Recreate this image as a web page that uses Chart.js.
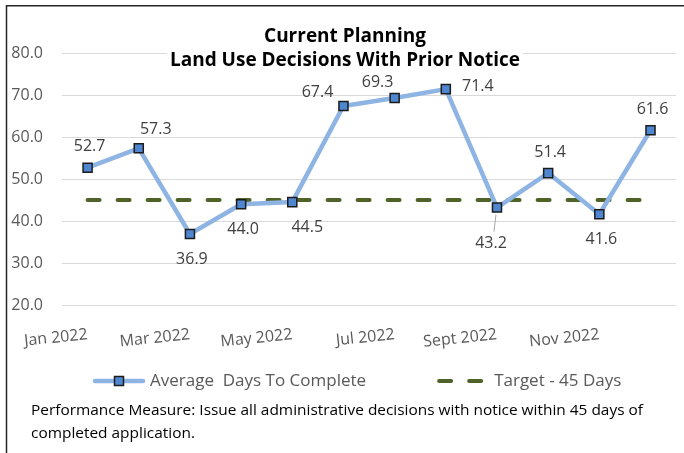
<!DOCTYPE html>
<html>
<head>
<meta charset="utf-8">
<style>
  html, body { margin: 0; padding: 0; background: #fff; }
  canvas { display: block; }
</style>
<script src="https://cdn.jsdelivr.net/npm/chart.js@4.4.1/dist/chart.umd.min.js"></script>
</head>
<body>
<canvas id="planning" width="684" height="453"></canvas>
<script>
const months = ['Jan 2022', 'Feb 2022', 'Mar 2022', 'Apr 2022', 'May 2022', 'Jun 2022',
  'Jul 2022', 'Aug 2022', 'Sept 2022', 'Oct 2022', 'Nov 2022', 'Dec 2022'];
const avgDays = [52.7, 57.3, 36.9, 44.0, 44.5, 67.4, 69.3, 71.4, 43.2, 51.4, 41.6, 61.6];
const targetDays = [45, 45, 45, 45, 45, 45, 45, 45, 45, 45, 45, 45];

const titleLines = ['Current Planning', 'Land Use Decisions With Prior Notice'];
const seriesNames = ['Average  Days To Complete', 'Target - 45 Days'];
const noteLines = [
  'Performance Measure: Issue all administrative decisions with notice within 45 days of',
  'completed application.',
];

// where each value label sits relative to its point (Excel moved a few of them)
const labelSpots = ['above', 'aboveRight', 'below', 'below', 'belowRight', 'left',
  'aboveLeft', 'right', 'belowFar', 'above', 'below', 'above'];
const spotOffsets = {
  above: [2, -21], aboveRight: [17, -19], aboveLeft: [-17, -16], left: [-26, -13],
  right: [32, -3], below: [2, 25], belowRight: [15, 25], belowFar: [-6, 36],
};

const FONT = "'Open Sans', 'Noto Sans', sans-serif";
const GREY = '#595959';
const AVG_LINE = '#8eb4e3';
const AVG_MARK = '#4f86d0';
const TARGET = '#4f6228';

const valueLabels = {
  id: 'valueLabels',
  afterDatasetsDraw(chart) {
    const { ctx } = chart;
    const meta = chart.getDatasetMeta(0);
    ctx.save();
    ctx.font = `16px ${FONT}`;
    ctx.textAlign = 'center';
    ctx.textBaseline = 'middle';
    meta.data.forEach((pt, i) => {
      const [dx, dy] = spotOffsets[labelSpots[i]];
      if (labelSpots[i] === 'belowFar') {
        // Excel leaves a leader line when a label is dragged away
        ctx.strokeStyle = '#a6a6a6';
        ctx.lineWidth = 1;
        ctx.beginPath();
        ctx.moveTo(pt.x - 1, pt.y + 7);
        ctx.lineTo(pt.x + dx + 3, pt.y + dy - 12);
        ctx.stroke();
      }
      ctx.fillStyle = '#404040';
      ctx.fillText(avgDays[i].toFixed(1), pt.x + dx, pt.y + dy);
    });
    ctx.restore();
  },
};

const overlay = {
  id: 'overlay',
  afterDraw(chart) {
    const { ctx, width } = chart;
    const ds = chart.data.datasets;
    ctx.save();

    // frame (top and left edges only are visible)
    ctx.strokeStyle = '#262626';
    ctx.lineWidth = 1.5;
    ctx.beginPath();
    ctx.moveTo(6.5, 453);
    ctx.lineTo(6.5, 5.75);
    ctx.lineTo(width, 5.75);
    ctx.stroke();

    // title on a white box, hiding the top gridline behind it
    ctx.font = `bold 19px ${FONT}`;
    const cx = 345;
    const boxW = Math.max(...titleLines.map(t => ctx.measureText(t).width)) + 6;
    ctx.fillStyle = '#fff';
    ctx.fillRect(cx - boxW / 2, 24, boxW, 48);
    ctx.fillStyle = '#000';
    ctx.textAlign = 'center';
    ctx.textBaseline = 'alphabetic';
    ctx.fillText(titleLines[0], cx, 42);
    ctx.fillText(titleLines[1], cx, 66);

    // legend
    const ly = 381;
    let x = 93;
    ctx.font = `17px ${FONT}`;
    ctx.textAlign = 'left';
    ctx.textBaseline = 'middle';

    ctx.lineCap = 'round';
    ctx.strokeStyle = ds[0].borderColor;
    ctx.lineWidth = ds[0].borderWidth;
    ctx.beginPath();
    ctx.moveTo(x + 2, ly);
    ctx.lineTo(x + 50, ly);
    ctx.stroke();
    ctx.fillStyle = ds[0].pointBackgroundColor;
    ctx.strokeStyle = ds[0].pointBorderColor;
    ctx.lineWidth = ds[0].pointBorderWidth;
    ctx.fillRect(x + 21.5, ly - 4.5, 9, 9);
    ctx.strokeRect(x + 21.5, ly - 4.5, 9, 9);
    ctx.fillStyle = GREY;
    ctx.fillText(seriesNames[0], x + 57, ly);
    x += 57 + ctx.measureText(seriesNames[0]).width + 71;

    ctx.strokeStyle = ds[1].borderColor;
    ctx.lineWidth = ds[1].borderWidth;
    ctx.setLineDash(ds[1].borderDash);
    ctx.beginPath();
    ctx.moveTo(x + 2, ly);
    ctx.lineTo(x + 50, ly);
    ctx.stroke();
    ctx.setLineDash([]);
    ctx.fillText(seriesNames[1], x + 57, ly);

    // performance note (Excel squeezes it a little)
    ctx.font = `15px ${FONT}`;
    ctx.fillStyle = '#000';
    ctx.textBaseline = 'alphabetic';
    const squeeze = 612 / ctx.measureText(noteLines[0]).width;
    noteLines.forEach((line, i) => {
      ctx.save();
      ctx.translate(31, 415 + i * 22.5);
      ctx.scale(squeeze, 1);
      ctx.fillText(line, 0, 0);
      ctx.restore();
    });

    ctx.restore();
  },
};

new Chart(document.getElementById('planning'), {
  type: 'line',
  data: {
    labels: months,
    datasets: [
      {
        label: seriesNames[0],
        data: avgDays,
        borderColor: AVG_LINE,
        borderWidth: 4.5,
        borderJoinStyle: 'round',
        pointStyle: 'rect',
        pointRadius: 6.4,
        pointBackgroundColor: AVG_MARK,
        pointBorderColor: '#1c1c1c',
        pointBorderWidth: 1.5,
        tension: 0,
      },
      {
        label: seriesNames[1],
        data: targetDays,
        borderColor: TARGET,
        borderWidth: 4,
        borderDash: [12, 18],
        borderCapStyle: 'round',
        pointRadius: 0,
        tension: 0,
      },
    ],
  },
  options: {
    responsive: false,
    animation: false,
    events: [],
    layout: { padding: { top: 53, right: 4, bottom: 95, left: 0 } },
    plugins: {
      legend: { display: false },
      title: { display: false },
      tooltip: { enabled: false },
    },
    scales: {
      x: {
        offset: true,
        grid: { display: false, drawTicks: false },
        border: { display: false },
        ticks: {
          autoSkip: false,
          minRotation: 6,
          maxRotation: 6,
          padding: 20,
          color: GREY,
          font: { family: FONT, size: 16 },
          callback: (v, i) => (i % 2 === 0 ? months[i] : ''),
        },
        afterFit: (scale) => { scale.height = 53; },
      },
      y: {
        min: 20,
        max: 80,
        grid: { color: '#d9d9d9', lineWidth: 1, drawTicks: false },
        border: { display: false },
        ticks: {
          stepSize: 10,
          padding: 19,
          color: GREY,
          font: { family: FONT, size: 16 },
          callback: (v) => v.toFixed(1),
        },
        afterFit: (scale) => { scale.width = 62; },
      },
    },
  },
  plugins: [valueLabels, overlay],
});
</script>
</body>
</html>
